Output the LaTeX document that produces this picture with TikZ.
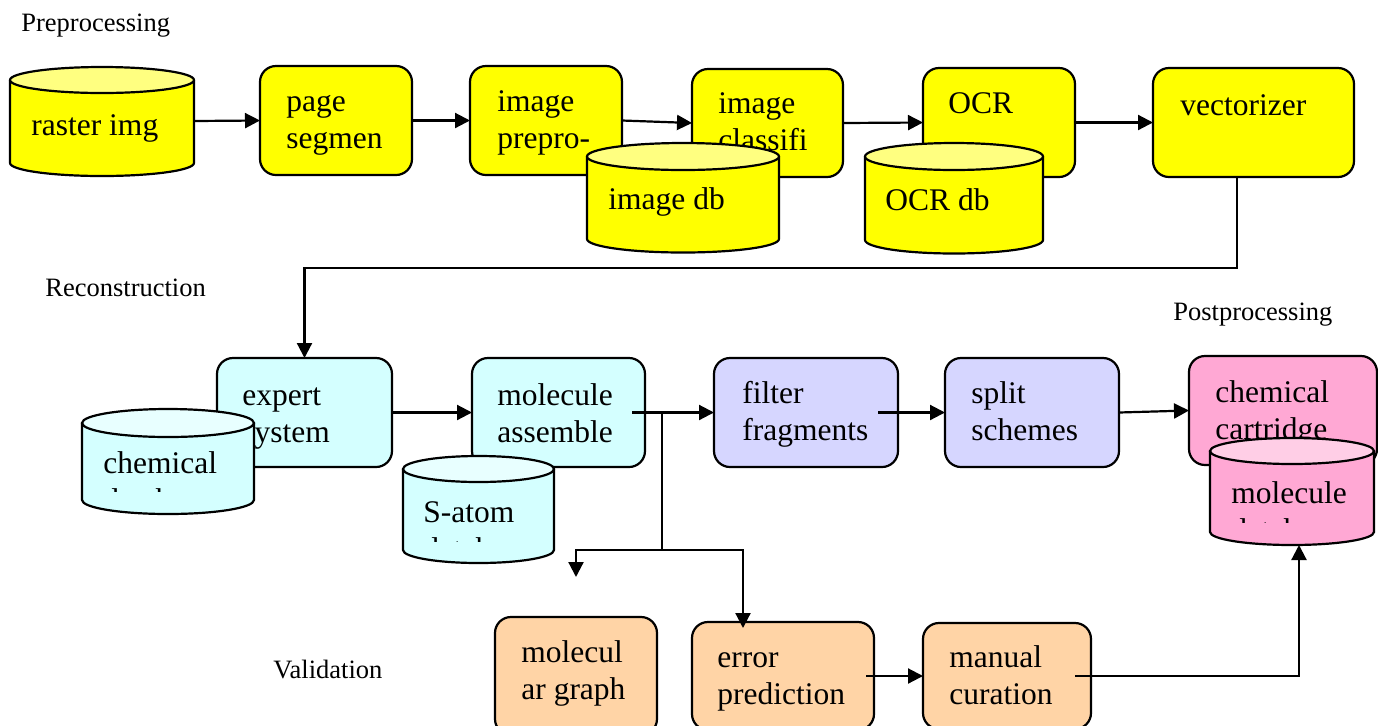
\documentclass[tikz,border=0pt]{standalone}
\usepackage{fontspec}
\setmainfont{Liberation Serif}
\usetikzlibrary{arrows.meta,calc}
\definecolor{ylw}{RGB}{255,255,0}
\definecolor{ylwtop}{RGB}{255,255,128}
\definecolor{cyn}{RGB}{212,255,255}
\definecolor{cyntop}{RGB}{232,255,255}
\definecolor{lav}{RGB}{214,214,255}
\definecolor{pnk}{RGB}{255,168,212}
\definecolor{pnktop}{RGB}{255,206,230}
\definecolor{org}{RGB}{255,212,166}
% cylinder: left, right, top-centre y, bottom-centre y, y-radius (px), body colour, top colour
\newcommand\mycyl[7]{%
  \pgfmathsetmacro\mycylrx{(#2-#1)/4}%
  \pgfmathsetmacro\mycylry{#5/2}%
  \pgfmathsetmacro\mycylcx{(#1+#2)/2}%
  \filldraw[line width=1.1pt,fill=#6] (#1,#3) -- (#1,#4) arc[start angle=180,end angle=360,x radius=\mycylrx pt,y radius=\mycylry pt] -- (#2,#3);
  \filldraw[line width=1.1pt,fill=#7] (\mycylcx,#3) ellipse[x radius=\mycylrx pt,y radius=\mycylry pt];
}
\begin{document}
\begin{tikzpicture}[x=0.5pt,y=-0.5pt,
  ln/.style={line width=1.1pt},
  arr/.style={line width=1.1pt,-{Triangle[length=7.5pt,width=7.5pt]}},
  box/.style={draw,line width=1.1pt,rounded corners=8pt,fill=#1,inner sep=0pt,outer sep=0pt},
  hold/.style={inner sep=0pt,outer sep=0pt},
  txt/.style={anchor=base west,align=left,inner sep=0pt,font=\fontsize{15.75pt}{18.5pt}\selectfont},
  txtt/.style={txt,yshift=-18.5pt},
  lab/.style={anchor=base west,inner sep=0pt,font=\fontsize{13.25pt}{16pt}\selectfont}]
\clip (0,0) rectangle (1378,725);

% section labels
\node[lab] (pre) at (21,31) {Preprocessing};
\node[lab] (rec) at (45,296) {Reconstruction};
\node[lab] (post) at (1173,320) {Postprocessing};
\node[lab] (val) at (273,678) {Validation};

% process boxes
\node[box=ylw,minimum width=76pt,minimum height=54.5pt] (page) at (336,120.5) {};
\node[box=ylw,minimum width=76pt,minimum height=54.5pt] (prepro) at (546,120.5) {};
\node[box=ylw,minimum width=75.5pt,minimum height=54pt] (classifi) at (767.5,123) {};
\node[box=ylw,minimum width=76pt,minimum height=54.5pt] (ocr) at (999,122.5) {};
\node[box=ylw,minimum width=100.5pt,minimum height=54.5pt] (vec) at (1253.5,122.5) {};
\node[box=cyn,minimum width=87.5pt,minimum height=54.5pt] (expert) at (304.5,412.5) {};
\node[box=cyn,minimum width=86.5pt,minimum height=54.5pt] (mol) at (558.5,412.5) {};
\node[box=lav,minimum width=92pt,minimum height=54.5pt] (filter) at (806,412.5) {};
\node[box=lav,minimum width=87pt,minimum height=54.5pt] (split) at (1032,412.5) {};
\node[box=pnk,minimum width=94pt,minimum height=54.5pt] (cart) at (1283,410.5) {};
\node[box=org,minimum width=81pt,minimum height=59pt] (molgraph) at (576,676) {};
\node[box=org,minimum width=91pt,minimum height=54pt] (err) at (783,676) {};
\node[box=org,minimum width=84pt,minimum height=53pt] (man) at (1007,676) {};

% box texts (position = baseline of the first line)
\node[txtt] (page-t) at (286,111) {page\\segmen};
\node[txtt] (prepro-t) at (497,111) {image\\prepro-};
\node[txtt] (classifi-t) at (718,113) {image\\classifi};
\node[txt] (ocr-t) at (948,113) {OCR};
\node[txt] (vec-t) at (1180,115) {vectorizer};
\node[txtt] (expert-t) at (242,405) {expert\\system};
\node[txtt] (mol-t) at (497,405) {molecule\\assemble};
\node[txtt] (filter-t) at (742,403) {filter\\fragments};
\node[txtt] (split-t) at (971,403) {split\\schemes};
\node[txtt] (cart-t) at (1215,402) {chemical\\cartridge};
\node[txtt] (molgraph-t) at (521,662) {molecul\\ar graph};
\node[txtt] (err-t) at (717,667) {error\\prediction};
\node[txtt] (man-t) at (949,667) {manual\\curation};

% databases (cylinders)
\node[hold,minimum width=92pt,minimum height=54.5pt] (raster) at (102,121) {};
\mycyl{10}{194}{80}{163}{13}{ylw}{ylwtop}
\node[txt] (raster-t) at (31,135) {raster img};

\node[hold,minimum width=96pt,minimum height=54.5pt] (imgdb) at (683,197.5) {};
\mycyl{587}{779}{156.5}{239}{13.5}{ylw}{ylwtop}
\node[txt] (imgdb-t) at (608,209) {image db};

\node[hold,minimum width=89pt,minimum height=55pt] (ocrdb) at (954,198) {};
\mycyl{865}{1043}{156.5}{240}{13.5}{ylw}{ylwtop}
\node[txt] (ocrdb-t) at (885,210) {OCR db};

\node[hold,minimum width=86pt,minimum height=52pt] (chemdb) at (168,461) {};
\mycyl{82}{254}{423}{500}{14}{cyn}{cyntop}
\begin{scope}
\clip (82,400) rectangle (254,491);
\node[txtt] (chemdb-t) at (103,473) {chemical\\database};
\end{scope}

\node[hold,minimum width=75.5pt,minimum height=54pt] (satom) at (478.5,509) {};
\mycyl{403}{554}{469}{550}{13}{cyn}{cyntop}
\begin{scope}
\clip (403,440) rectangle (554,541);
\node[txtt] (satom-t) at (423,522) {S-atom\\database};
\end{scope}

\node[hold,minimum width=82pt,minimum height=53.5pt] (moldb) at (1292,491.5) {};
\mycyl{1210}{1374}{451}{532}{13}{pnk}{pnktop}
\begin{scope}
\clip (1210,430) rectangle (1374,522);
\node[txtt] (moldb-t) at (1231,503) {molecule\\database};
\end{scope}

% connectors
\draw[arr] (raster.east) -- (page.west);
\draw[arr] (page.east) -- (prepro.west);
\draw[arr] (prepro.east) -- (classifi.west);
\draw[arr] (classifi.east) -- (ocr.west);
\draw[arr] (ocr.east) -- (vec.west);
\draw[arr] ([xshift=-8.25pt]vec.south) |- ($(expert.north)+(0,-90)$) -- (expert.north);
\draw[arr] (expert.east) -- (mol.west);
\draw[arr] ([xshift=-6.5pt]mol.east) -- (filter.west);
\coordinate (junc) at ($(mol.east)+(17,0)$);
\coordinate (fork) at (662,550);
\coordinate (loose) at (576,577);
\draw[ln] (junc) -- (fork);
\draw[arr] (fork) -| (loose);
\draw[arr] (fork) -| ([xshift=-20pt,yshift=-3pt]err.north);
\draw[arr] ([xshift=-10pt]filter.east) -- (split.west);
\draw[arr] (split.east) -- (cart.west);
\draw[arr] ([xshift=-4pt]err.east) -- (man.west);
\draw[arr] ([xshift=-8pt]man.east) -| ([xshift=3.5pt]moldb.south);
\end{tikzpicture}
\end{document}
